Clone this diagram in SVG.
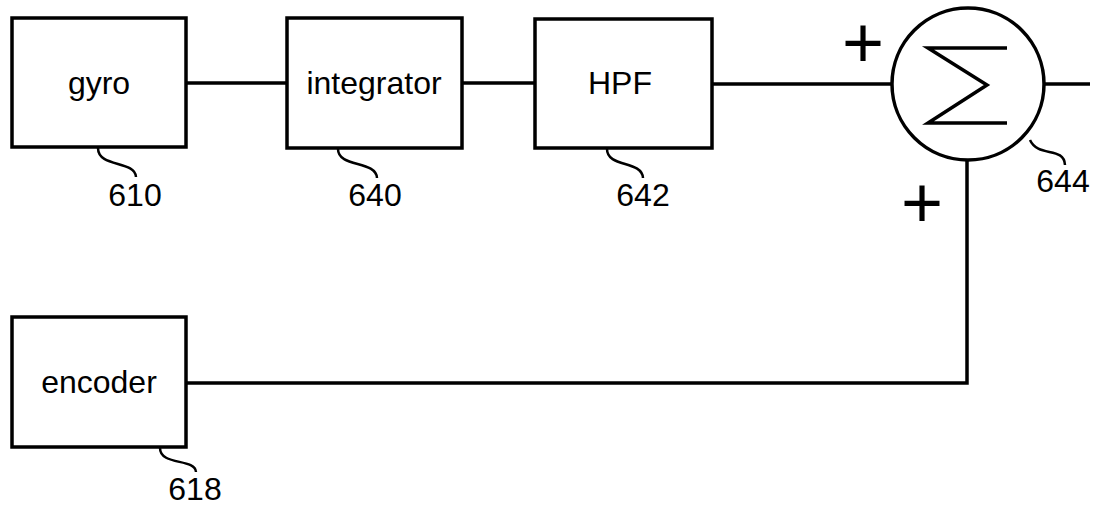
<svg xmlns="http://www.w3.org/2000/svg" width="1099" height="512" viewBox="0 0 1099 512">
<style>
.box{fill:#fff;stroke:#000;stroke-width:3.5}
.ln{fill:none;stroke:#000;stroke-width:3.5}
.ld{fill:none;stroke:#000;stroke-width:2.5}
.t{font-family:"Liberation Sans",Arial,sans-serif;font-size:32px;text-anchor:middle;fill:#000}
.n{font-family:"Liberation Sans",Arial,sans-serif;font-size:32px;text-anchor:middle;fill:#000}
.p{font-family:"Liberation Sans",Arial,sans-serif;font-size:72px;text-anchor:middle;fill:#000}
</style>
<rect width="1099" height="512" fill="#fff"/>
<g id="connectors">
<line class="ln" x1="186" y1="83" x2="287" y2="83"/>
<line class="ln" x1="462" y1="83" x2="535" y2="83"/>
<line class="ln" x1="712" y1="84" x2="892" y2="84"/>
<line class="ln" x1="1044" y1="84" x2="1090" y2="84"/>
<polyline class="ln" points="967,160 967,383 186,383"/>
</g>
<g id="gyro">
<rect class="box" x="12" y="18" width="174" height="129"/>
<text class="t" x="99" y="94">gyro</text>
<path class="ld" d="M98,148 C98,168 135,160 136,177"/>
<text class="n" x="135" y="206">610</text>
</g>
<g id="integrator">
<rect class="box" x="287" y="18" width="175" height="130"/>
<text class="t" x="374" y="94">integrator</text>
<path class="ld" d="M338,149 C338,168 376,160 377,178"/>
<text class="n" x="375" y="206">640</text>
</g>
<g id="hpf">
<rect class="box" x="535" y="19" width="177" height="129"/>
<text class="t" x="620" y="94">HPF</text>
<path class="ld" d="M607,149 C607,168 642,160 643,178"/>
<text class="n" x="643" y="206">642</text>
</g>
<g id="sum">
<circle class="ln" cx="968" cy="84" r="76"/>
<polyline class="ln" points="1007,48 928,48 987,85 928,123 1007,123"/>
<text class="p" x="863" y="67">+</text>
<text class="p" x="922" y="227">+</text>
<path class="ld" d="M1030,140 C1038,158 1064,146 1065,165"/>
<text class="n" x="1063" y="192">644</text>
</g>
<g id="encoder">
<rect class="box" x="12" y="317" width="174" height="130"/>
<text class="t" x="99" y="393">encoder</text>
<path class="ld" d="M160,448 C160,466 195,458 196,472"/>
<text class="n" x="195" y="500">618</text>
</g>
</svg>
